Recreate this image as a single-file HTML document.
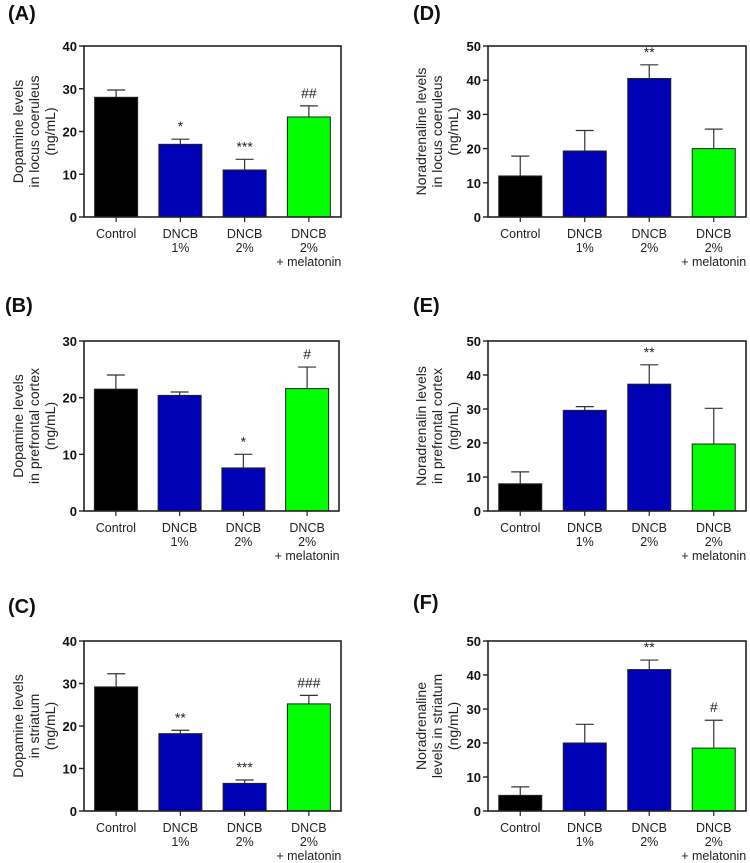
<!DOCTYPE html>
<html><head><meta charset="utf-8"><style>
html,body{margin:0;padding:0;background:#fff;}
svg{display:block;font-family:"Liberation Sans",Arial,sans-serif;}
</style></head><body>
<svg id="fig" width="750" height="863" viewBox="0 0 750 863"></svg>
<script>
const categories = ["Control","DNCB|1%","DNCB|2%","DNCB|2%|+ melatonin"];
const valuesA = [28, 17, 11, 23.4];
const errorsA = [29.7, 18.2, 13.5, 26];
const annotA = ["", "*", "***", "##"];
const valuesB = [21.5, 20.4, 7.6, 21.6];
const errorsB = [24, 21, 10, 25.4];
const annotB = ["", "", "*", "#"];
const valuesC = [29.2, 18.2, 6.5, 25.2];
const errorsC = [32.3, 19, 7.3, 27.2];
const annotC = ["", "**", "***", "###"];
const valuesD = [12, 19.3, 40.5, 20];
const errorsD = [17.8, 25.3, 44.5, 25.7];
const annotD = ["", "", "**", ""];
const valuesE = [8, 29.6, 37.3, 19.7];
const errorsE = [11.5, 30.7, 43, 30.2];
const annotE = ["", "", "**", ""];
const valuesF = [4.6, 20, 41.6, 18.5];
const errorsF = [7.1, 25.5, 44.4, 26.7];
const annotF = ["", "", "**", "#"];
const ticksA = [0,10,20,30,40];
const ticksB = [0,10,20,30];
const ticksN = [0,10,20,30,40,50];
const colors = ["#000000","#0000b4","#0000b4","#00ff00"];

const svg = document.getElementById('fig');
const NS = "http://www.w3.org/2000/svg";
function mk(tag, attrs, parent){
  const e = document.createElementNS(NS, tag);
  for (const k in attrs) e.setAttribute(k, attrs[k]);
  (parent||svg).appendChild(e); return e;
}

const panels = [
  {id:"a", label:"(A)", lx:8, ly:20, x0:84, x1:341, y0:46, y1:217, ticks:ticksA, vals:valuesA, errs:errorsA, ann:annotA, ylab:["Dopamine levels","in locus coeruleus","(ng/mL)"], ycx:34},
  {id:"b", label:"(B)", lx:5, ly:312, x0:84, x1:339, y0:341, y1:511, ticks:ticksB, vals:valuesB, errs:errorsB, ann:annotB, ylab:["Dopamine levels","in prefrontal cortex","(ng/mL)"], ycx:34},
  {id:"c", label:"(C)", lx:8, ly:613, x0:84, x1:341, y0:641, y1:811, ticks:ticksA, vals:valuesC, errs:errorsC, ann:annotC, ylab:["Dopamine levels","in striatum","(ng/mL)"], ycx:34},
  {id:"d", label:"(D)", lx:413, ly:20, x0:488, x1:746, y0:46, y1:217, ticks:ticksN, vals:valuesD, errs:errorsD, ann:annotD, ylab:["Noradrenaline levels","in locus coeruleus","(ng/mL)"], ycx:437},
  {id:"e", label:"(E)", lx:413, ly:312, x0:488, x1:746, y0:341, y1:511, ticks:ticksN, vals:valuesE, errs:errorsE, ann:annotE, ylab:["Noradrenalin levels","in prefrontal cortex","(ng/mL)"], ycx:437},
  {id:"f", label:"(F)", lx:413, ly:609, x0:488, x1:746, y0:641, y1:811, ticks:ticksN, vals:valuesF, errs:errorsF, ann:annotF, ylab:["Noradrenaline","levels in striatum","(ng/mL)"], ycx:437}
];

panels.forEach(p => {
  const g = mk('g', {});
  
  
  const ymax = p.ticks[p.ticks.length-1];
  const yS = v => p.y1 - (v/ymax)*(p.y1-p.y0);
  const step = (p.x1-p.x0)/4;
  const xC = i => p.x0 + step*(i+0.5);
  const bw = 43;

  const t = mk('text', {x:p.lx, y:p.ly, 'font-size':20, 'font-weight':'bold', fill:'#111'}, g);
  t.textContent = p.label;
  
  

  // y label
  const yl = mk('text', {transform:`translate(${p.ycx},${(p.y0+p.y1)/2}) rotate(-90)`, 'font-size':14, 'text-anchor':'middle', fill:'#222'}, g);
  
  
  p.ylab.forEach((s, k) => {
    const ts = mk('tspan', {x:0, y:(k-1)*16 + 5}, yl); ts.textContent = s;
  });

  // bars
  p.vals.forEach((v, i) => {
    const cx = xC(i);
    const eb = mk('path', {d:`M${cx},${yS(v)} V${yS(p.errs[i])} M${cx-9},${yS(p.errs[i])} H${cx+9}`, stroke:'#333', 'stroke-width':1.2, fill:'none'}, g);
    
    
    const r = mk('rect', {x:cx-bw/2, y:yS(v), width:bw, height:yS(0)-yS(v), fill:colors[i], stroke:'#222', 'stroke-width':1}, g);
    
    
    if (p.ann[i]) {
      const a = mk('text', {x:cx, y:yS(p.errs[i]) - 8, 'font-size':14, 'text-anchor':'middle', fill:'#222'}, g);
      a.textContent = p.ann[i];
      
      
    }
    const xt = mk('line', {x1:cx, x2:cx, y1:p.y1, y2:p.y1+5, stroke:'#222', 'stroke-width':1.2}, g);
    const lab = mk('text', {'font-size':12.5, 'text-anchor':'middle', fill:'#222'}, g);
    
    
    categories[i].split('|').forEach((s, k) => {
      const ts = mk('tspan', {x:cx, y:p.y1 + 21 + k*14}, lab); ts.textContent = s;
    });
  });

  // frame
  const fr = mk('rect', {x:p.x0, y:p.y0, width:p.x1-p.x0, height:p.y1-p.y0, fill:'none', stroke:'#222', 'stroke-width':1.6}, g);
  
  

  p.ticks.forEach(tv => {
    const y = yS(tv);
    mk('line', {x1:p.x0-5, x2:p.x0, y1:y, y2:y, stroke:'#222', 'stroke-width':1.4}, g);
    const tl = mk('text', {x:p.x0-7, y:y+5, 'font-size':13, 'font-weight':'bold', 'text-anchor':'end', fill:'#111'}, g);
    tl.textContent = tv;
    
    
  });
});
</script>
</body></html>
